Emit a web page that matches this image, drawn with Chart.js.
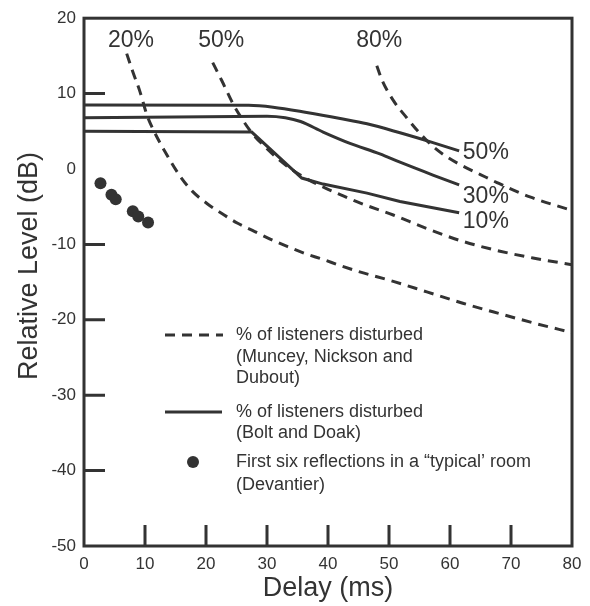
<!DOCTYPE html>
<html>
<head>
<meta charset="utf-8">
<script src="https://cdn.jsdelivr.net/npm/chart.js@4/dist/chart.umd.min.js"></script>
<style>
  body { margin: 0; background: #fff; }
</style>
</head>
<body>
<canvas id="chart-area" width="590" height="606"></canvas>
<script>
// axis ticks
var xTicks = [0, 10, 20, 30, 40, 50, 60, 70, 80];
var yTicks = [20, 10, 0, -10, -20, -30, -40, -50];
var xInnerTicks = [10, 20, 30, 40, 50, 60, 70];
var yInnerTicks = [10, -10, -20, -30, -40];

// Muncey, Nickson and Dubout - % of listeners disturbed (dashed)
var munceyLabels = ['20%', '50%', '80%'];
var muncey20X = [7.0, 8.0, 9.2, 10.3, 11.3, 13.0, 15.7, 17.7, 20.2, 22.6, 25.2, 28.0, 30.8, 33.4, 36.2, 39.2, 42.0, 45.0, 50.7, 56.2, 62.1, 68.2, 73.6, 80];
var muncey20Y = [15.3, 12.9, 10.2, 7.2, 5.3, 2.7, -0.9, -2.9, -4.6, -5.9, -7.2, -8.3, -9.4, -10.3, -11.2, -12.0, -12.8, -13.6, -14.9, -16.3, -17.8, -19.2, -20.4, -21.7];
var muncey50X = [21.1, 22.6, 24.4, 26.1, 27.7, 30.0, 32.0, 34.3, 36.5, 39.5, 42.0, 45.2, 50.7, 56.2, 62.1, 68.2, 73.6, 80];
var muncey50Y = [14.1, 11.7, 8.7, 6.4, 4.6, 2.7, 1.2, -0.2, -1.3, -2.5, -3.4, -4.5, -6.1, -7.9, -9.6, -10.9, -11.8, -12.7];
var muncey80X = [48.0, 48.9, 50.7, 52.9, 55.1, 57.2, 59.5, 61.6, 64.9, 67.7, 73.1, 80];
var muncey80Y = [13.7, 11.7, 9.1, 6.8, 4.7, 3.0, 1.6, 0.6, -0.7, -1.8, -3.7, -5.5];

// Bolt and Doak - % of listeners disturbed (solid)
var boltLabels = ['50%', '30%', '10%'];
var bolt50X = [0, 27, 31, 36.5, 42, 46.4, 51.8, 57.2, 61.5];
var bolt50Y = [8.5, 8.45, 8.2, 7.5, 6.7, 6.0, 4.8, 3.5, 2.4];
var bolt30X = [0, 15, 30, 33, 35.5, 39.2, 43.6, 48.5, 51.8, 57.2, 61.5];
var bolt30Y = [6.8, 6.9, 7.0, 6.8, 6.3, 4.9, 3.4, 2.0, 0.9, -0.8, -2.1];
var bolt10X = [0, 27.5, 35.7, 39.2, 46.4, 51.8, 61.5];
var bolt10Y = [5.0, 4.9, -1.2, -2.0, -3.2, -4.3, -5.8];

// First six reflections in a typical room (Devantier)
var reflX = [2.7, 4.5, 5.2, 8.0, 8.9, 10.5];
var reflY = [-1.9, -3.4, -4.0, -5.6, -6.3, -7.1];

var ink = '#333333';
var font = "'Liberation Sans', Arial, sans-serif";

function pts(xs, ys) {
    return xs.map(function (x, i) { return { x: x, y: ys[i] }; });
}

function curve(xs, ys, dashed, smooth) {
    return {
        data: pts(xs, ys),
        showLine: true,
        borderColor: ink,
        borderWidth: 3,
        borderDash: dashed ? [10, 7] : [],
        pointRadius: 0,
        fill: false,
        tension: smooth ? 0.4 : 0,
        cubicInterpolationMode: smooth ? 'monotone' : 'default'
    };
}

// frame, inner ticks, curve labels, legend and y title
var decor = {
    id: 'decor',
    afterDatasetsDraw: function (chart) {
        var ctx = chart.ctx;
        var a = chart.chartArea;
        var xs = chart.scales.x, ys = chart.scales.y;
        ctx.save();
        ctx.strokeStyle = ink;
        ctx.fillStyle = ink;
        ctx.lineWidth = 3;
        ctx.setLineDash([]);
        ctx.strokeRect(a.left, a.top, a.right - a.left, a.bottom - a.top);

        ctx.beginPath();
        xInnerTicks.forEach(function (v) {
            var px = xs.getPixelForValue(v);
            ctx.moveTo(px, a.bottom);
            ctx.lineTo(px, a.bottom - 21);
        });
        yInnerTicks.forEach(function (v) {
            var py = ys.getPixelForValue(v);
            ctx.moveTo(a.left, py);
            ctx.lineTo(a.left + 21, py);
        });
        ctx.stroke();

        // curve labels
        ctx.font = '23px ' + font;
        ctx.textBaseline = 'middle';
        ctx.textAlign = 'center';
        var topAt = [7.7, 22.5, 48.4];
        munceyLabels.forEach(function (t, i) {
            ctx.fillText(t, xs.getPixelForValue(topAt[i]), ys.getPixelForValue(17));
        });
        ctx.textAlign = 'left';
        var sideAt = [2.2, -3.7, -7.0];
        boltLabels.forEach(function (t, i) {
            ctx.fillText(t, xs.getPixelForValue(62.1), ys.getPixelForValue(sideAt[i]));
        });

        // legend
        ctx.beginPath();
        ctx.setLineDash([10, 7]);
        ctx.moveTo(165, 335);
        ctx.lineTo(223, 335);
        ctx.stroke();
        ctx.setLineDash([]);
        ctx.beginPath();
        ctx.moveTo(165, 412);
        ctx.lineTo(222, 412);
        ctx.stroke();
        ctx.beginPath();
        ctx.arc(193, 462, 6, 0, Math.PI * 2);
        ctx.fill();

        ctx.font = '18px ' + font;
        var lines = [
            ['% of listeners disturbed', 335],
            ['(Muncey, Nickson and', 357],
            ['Dubout)', 378],
            ['% of listeners disturbed', 412],
            ['(Bolt and Doak)', 433],
            ['First six reflections in a \u201ctypical\u2019 room', 462],
            ['(Devantier)', 485]
        ];
        lines.forEach(function (l) { ctx.fillText(l[0], 236, l[1]); });

        // y axis title
        ctx.translate(30, 266);
        ctx.rotate(-Math.PI / 2);
        ctx.textAlign = 'center';
        ctx.font = '27px ' + font;
        ctx.fillText('Relative Level (dB)', 0, 0);
        ctx.restore();
    }
};

var config = {
    type: 'scatter',
    data: {
        datasets: [
            curve(muncey20X, muncey20Y, true, true),
            curve(muncey50X, muncey50Y, true, true),
            curve(muncey80X, muncey80Y, true, true),
            curve(bolt50X, bolt50Y, false, true),
            curve(bolt30X, bolt30Y, false, true),
            curve(bolt10X, bolt10Y, false, false),
            {
                data: pts(reflX, reflY),
                pointRadius: 6,
                pointBackgroundColor: ink,
                pointBorderWidth: 0,
                showLine: false
            }
        ]
    },
    options: {
        responsive: false,
        animation: false,
        layout: { padding: { top: 17, right: 18, left: 0, bottom: 0 } },
        plugins: { legend: { display: false }, tooltip: { enabled: false } },
        scales: {
            x: {
                type: 'linear',
                min: 0,
                max: 80,
                afterFit: function (s) { s.height = 60; },
                afterBuildTicks: function (s) { s.ticks = xTicks.map(function (v) { return { value: v }; }); },
                grid: { display: false, drawTicks: false },
                border: { display: false },
                ticks: { color: ink, font: { size: 17, family: font }, padding: 8 },
                title: { display: true, text: 'Delay (ms)', color: ink, font: { size: 27, family: font }, padding: { top: 0, bottom: 1 } }
            },
            y: {
                type: 'linear',
                min: -50,
                max: 20,
                afterFit: function (s) { s.width = 84; },
                afterBuildTicks: function (s) { s.ticks = yTicks.map(function (v) { return { value: v }; }); },
                grid: { display: false, drawTicks: false },
                border: { display: false },
                ticks: { color: ink, font: { size: 17, family: font }, padding: 8 }
            }
        }
    },
    plugins: [decor]
};

window.onload = function () {
    var ctx = document.getElementById('chart-area').getContext('2d');
    window.myChart = new Chart(ctx, config);
};
</script>
</body>
</html>
